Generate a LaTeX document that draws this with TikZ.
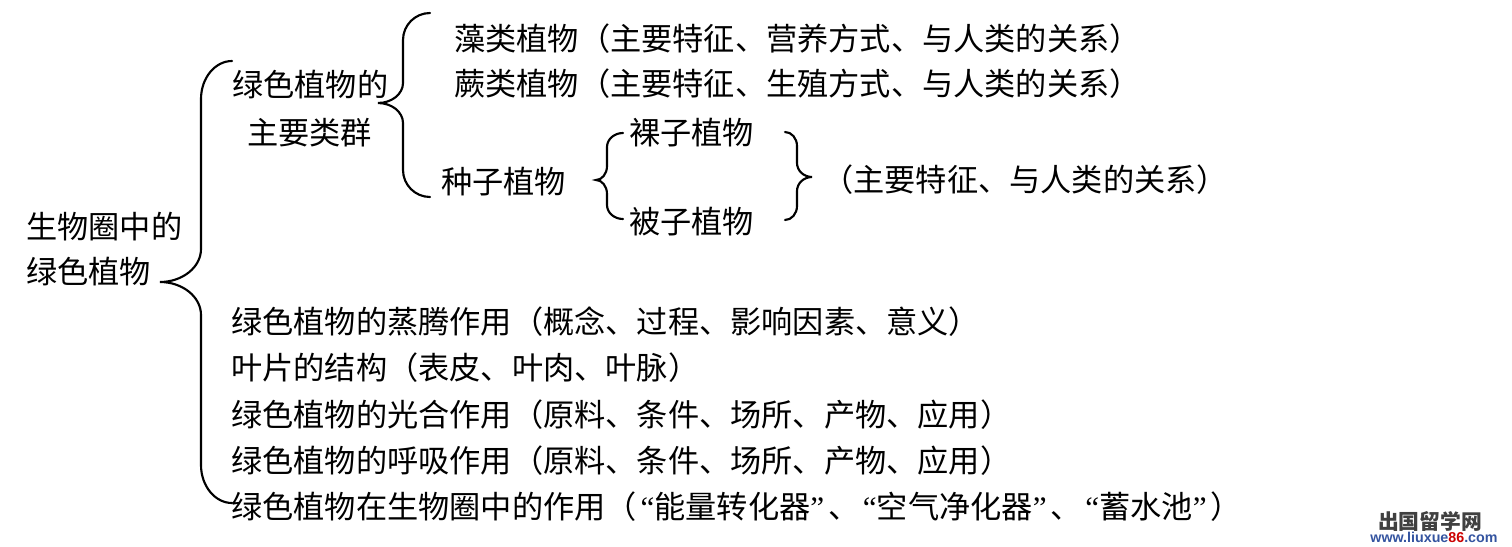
\documentclass[tikz,border=0pt]{standalone}
\usepackage{fontspec}
\setmainfont{Noto Sans CJK SC}
\newfontfamily\qtfont{Liberation Serif}
\newfontfamily\wmfont{Liberation Sans}
\newcommand{\qopen}{\kern2.8pt{\qtfont “}}
\newcommand{\qclose}{{\qtfont ”}\kern2.8pt}
% e v t T M B r1 r2
\newcommand{\drawbrace}[8]{%
  \draw[brace line] (#1,#4) .. controls ({#2+0.45*(#1-#2)},#4) and (#2,{#4+0.45*#7}) .. (#2,{#4+#7})
    -- (#2,{#5-#8}) .. controls (#2,{#5-0.45*#8}) and ({#2+0.45*(#3-#2)},#5) .. (#3,#5)
    .. controls ({#2+0.45*(#3-#2)},#5) and (#2,{#5+0.45*#8}) .. (#2,{#5+#8})
    -- (#2,{#6-#7}) .. controls (#2,{#6-0.45*#7}) and ({#2+0.45*(#1-#2)},#6) .. (#1,#6);}
\tikzset{
  lbl/.style={anchor=west, inner sep=0pt, text height=20.6pt, text depth=2.8pt,
    font=\fontsize{23.4}{28}\selectfont},
  brace line/.style={line width=1.6pt, line cap=round}
}

\begin{document}
\begin{tikzpicture}[x=0.75pt, y=-0.75pt]
    \useasboundingbox[fill=white] (0,0) rectangle (1512,546);
    % root
    \node[lbl] (root1) at (26,227) {生物圈中的};
    \node[lbl] (root2) at (26,272) {绿色植物};
    \drawbrace{232}{201}{160}{61}{282}{503}{38}{33}
    % main groups
    \node[lbl] (grp1) at (232,85) {绿色植物的};
    \node[lbl] (grp2) at (247,133) {主要类群};
    \drawbrace{430}{403}{378}{13}{103}{197}{27}{20}
    \node[lbl] (algae) at (454,39) {藻类植物（主要特征、营养方式、与人类的关系）};
    \node[lbl] (fern) at (454,84) {蕨类植物（主要特征、生殖方式、与人类的关系）};
    \node[lbl] (seed) at (441,182) {种子植物};
    \drawbrace{623}{607}{596}{133}{180}{219}{14}{14}
    \node[lbl] (gymno) at (629,133) {裸子植物};
    \node[lbl] (angio) at (629,222) {被子植物};
    \drawbrace{785}{797}{812}{132}{177}{220}{14}{14}
    \node[lbl] (seednote) at (822,180) {（主要特征、与人类的关系）};
    % other topics
    \node[lbl] (transp) at (231,322) {绿色植物的蒸腾作用（概念、过程、影响因素、意义）};
    \node[lbl] (leaf) at (231,368) {叶片的结构（表皮、叶肉、叶脉）};
    \node[lbl] (photo) at (231,415) {绿色植物的光合作用（原料、条件、场所、产物、应用）};
    \node[lbl] (resp) at (231,461) {绿色植物的呼吸作用（原料、条件、场所、产物、应用）};
    \node[lbl] (role) at (231,507) {绿色植物在生物圈中的作用（\qopen 能量转化器\qclose 、\qopen 空气净化器\qclose 、\qopen 蓄水池\qclose ）};
    % watermark
    \node[inner sep=0pt, text=black!75, font=\fontsize{15.6}{18}\selectfont\bfseries] (wmcn) at (1430,521) {出国留学网};
    \node[inner sep=0pt, font=\wmfont\fontsize{10.7}{12}\selectfont\bfseries, text={rgb,255:red,52;green,84;blue,160}] (wmurl) at (1434,537) {www.liuxue{\color{red!80!black}86}.com};
\end{tikzpicture}
\end{document}
